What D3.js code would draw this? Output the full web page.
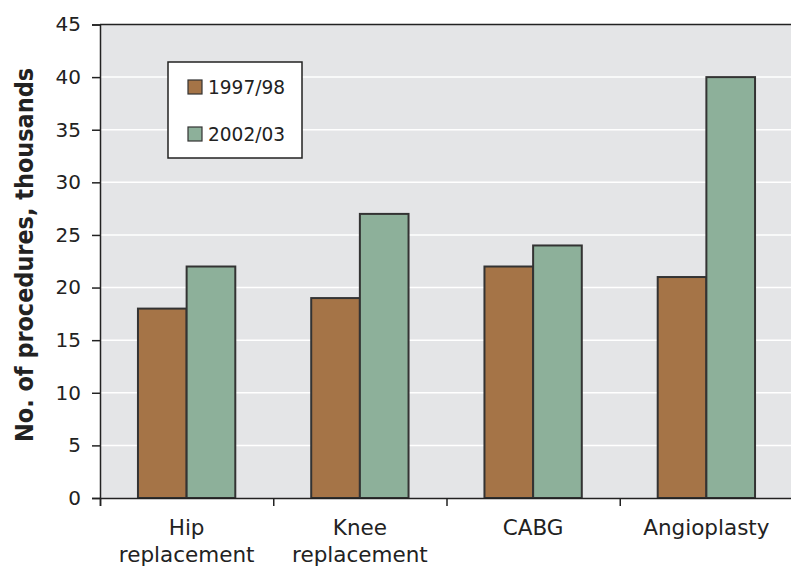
<!DOCTYPE html>
<html><head><meta charset="utf-8">
<script src="https://cdn.jsdelivr.net/npm/d3@7"></script>
<style>body{margin:0;background:#fff;} text{font-family:"DejaVu Sans",sans-serif;fill:#222;}</style>
</head><body>
<svg id="c" width="791" height="571"></svg>
<script>
const categories = [["Hip","replacement"],["Knee","replacement"],["CABG"],["Angioplasty"]];
const seriesNames = ["1997/98","2002/03"];
const values1997 = [18,19,22,21];
const values2002 = [22,27,24,40];
const yTicks = [0,5,10,15,20,25,30,35,40,45];
const colors = ["#A57447","#8DB09A"];

const svg = d3.select("#c");
const L=100, R=793, T=24.5, B=498;
const x = d3.scaleBand().domain(d3.range(categories.length)).range([L,R]).paddingInner(0).paddingOuter(0);
const xs = d3.scaleBand().domain([0,1]).range([0,x.bandwidth()]).paddingInner(0).paddingOuter(0.78);
const y = d3.scaleLinear().domain([0,45]).range([B,T]);

svg.append("rect").attr("x",L).attr("y",T).attr("width",R-L).attr("height",B-T).attr("fill","#E4E5E7");
svg.selectAll(".grid").data(yTicks.filter(d=>d>0&&d<45)).join("line")
  .attr("x1",L).attr("x2",R).attr("y1",d=>y(d)).attr("y2",d=>y(d)).attr("stroke","#fff").attr("stroke-width",1.5);

const data = categories.map((c,i)=>[values1997[i],values2002[i]]);
const g = svg.selectAll(".grp").data(data).join("g").attr("transform",(d,i)=>`translate(${x(i)},0)`);
g.selectAll("rect").data(d=>d).join("rect")
  .attr("x",(d,j)=>xs(j)).attr("width",xs.bandwidth())
  .attr("y",d=>y(d)).attr("height",d=>B-y(d))
  .attr("fill",(d,j)=>colors[j]).attr("stroke","#333").attr("stroke-width",2);

// axes
const ya = d3.axisLeft(y).tickValues(yTicks).tickSize(8).tickPadding(11);
const yg = svg.append("g").attr("transform",`translate(${L},0)`).call(ya);
yg.select(".domain").attr("stroke","#222").attr("stroke-width",1.5);
yg.selectAll(".tick line").attr("stroke","#222").attr("stroke-width",1.5);
yg.selectAll(".tick text").style("font-size","20px").attr("fill","#222");
svg.append("line").attr("x1",L).attr("x2",791).attr("y1",T).attr("y2",T).attr("stroke","#222").attr("stroke-width",1.5);

const xa = d3.axisBottom(d3.scaleLinear().domain([0,4]).range([L,R])).tickValues([0,1,2,3]).tickSize(8).tickFormat("");
const xg = svg.append("g").attr("transform",`translate(0,${B})`).call(xa);
xg.select(".domain").attr("stroke","#222").attr("stroke-width",1.5);
xg.selectAll(".tick line").attr("stroke","#222").attr("stroke-width",1.5);

categories.forEach((c,i)=>{
  const cx = x(i)+x.bandwidth()/2;
  const t = svg.append("text").attr("x",cx).attr("y",535).attr("text-anchor","middle").style("font-size","21.5px");
  c.forEach((line,k)=>t.append("tspan").attr("x",cx).attr("dy",k?27:0).text(line));
});

svg.append("text").attr("transform","translate(33,255) rotate(-90)").attr("text-anchor","middle")
  .style("font-size","24px").style("font-weight","bold")
  .attr("textLength",374).attr("lengthAdjust","spacingAndGlyphs").text("No. of procedures, thousands");

// legend
const lg = svg.append("g").attr("transform","translate(168,62)");
lg.append("rect").attr("width",134).attr("height",96).attr("fill","#fff").attr("stroke","#222").attr("stroke-width",1.5);
seriesNames.forEach((s,i)=>{
  lg.append("rect").attr("x",20).attr("y",18+i*47).attr("width",14).attr("height",14).attr("fill",colors[i]).attr("stroke","#333").attr("stroke-width",1.2);
  lg.append("text").attr("x",40).attr("y",32+i*47).style("font-size","19px")
    .attr("textLength",77).attr("lengthAdjust","spacingAndGlyphs").text(s);
});
</script>
</body></html>
